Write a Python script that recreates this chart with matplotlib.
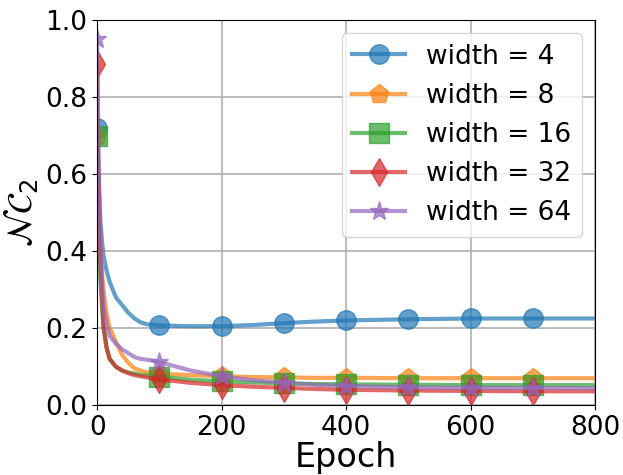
import numpy as np
import matplotlib.pyplot as plt

epochs = [0, 2, 5, 8, 10, 15, 20, 30, 40, 50, 60, 70, 80, 100, 150, 200, 250,
          300, 350, 400, 500, 600, 700, 800]

nc2_w4 = [0.72, 0.60, 0.48, 0.42, 0.39, 0.35, 0.32, 0.28, 0.26, 0.24, 0.225,
          0.215, 0.21, 0.207, 0.205, 0.205, 0.208, 0.213, 0.217, 0.220, 0.223,
          0.225, 0.225, 0.225]
nc2_w8 = [0.70, 0.55, 0.42, 0.34, 0.30, 0.24, 0.20, 0.165, 0.13, 0.11, 0.095,
          0.09, 0.085, 0.082, 0.078, 0.075, 0.073, 0.072, 0.071, 0.071, 0.070,
          0.070, 0.070, 0.070]
nc2_w16 = [0.70, 0.50, 0.33, 0.25, 0.20, 0.15, 0.12, 0.10, 0.09, 0.085, 0.082,
           0.079, 0.077, 0.074, 0.066, 0.062, 0.059, 0.057, 0.055, 0.054, 0.053,
           0.052, 0.052, 0.052]
nc2_w32 = [0.885, 0.60, 0.38, 0.27, 0.21, 0.15, 0.12, 0.10, 0.09, 0.083, 0.078,
           0.075, 0.072, 0.067, 0.058, 0.052, 0.048, 0.045, 0.042, 0.040, 0.038,
           0.037, 0.036, 0.036]
nc2_w64 = [0.95, 0.65, 0.42, 0.31, 0.26, 0.21, 0.18, 0.16, 0.145, 0.135, 0.125,
           0.12, 0.118, 0.112, 0.09, 0.075, 0.065, 0.058, 0.053, 0.050, 0.046,
           0.045, 0.045, 0.044]

widths = [4, 8, 16, 32, 64]
series = [nc2_w4, nc2_w8, nc2_w16, nc2_w32, nc2_w64]
markers = ["o", "p", "s", "d", "*"]
colors = ["tab:blue", "tab:orange", "tab:green", "tab:red", "tab:purple"]

mark_idx = [i for i, e in enumerate(epochs) if e % 100 == 0 and e < 800]

fig, ax = plt.subplots(figsize=(6.23, 4.75), dpi=100)
for w, vals, m, c in zip(widths, series, markers, colors):
    ax.plot(epochs, vals, color=c, marker=m, markevery=mark_idx, lw=3,
            markersize=14, alpha=0.7, label=f"width = {w}")

ax.set_xlim(0, 800)
ax.set_ylim(0, 1.0)
ax.set_xticks([0, 200, 400, 600, 800])
ax.grid(True, color="#b0b0b0", lw=1.2)
ax.tick_params(labelsize=19)
ax.set_xlabel("Epoch", fontsize=24, labelpad=0)
ax.set_ylabel(r"$\mathcal{NC}_2$", fontsize=25)
ax.legend(fontsize=19, loc="upper right")
fig.subplots_adjust(left=0.156, right=0.955, top=0.958, bottom=0.147)
fig.savefig("out.png", dpi=100)
